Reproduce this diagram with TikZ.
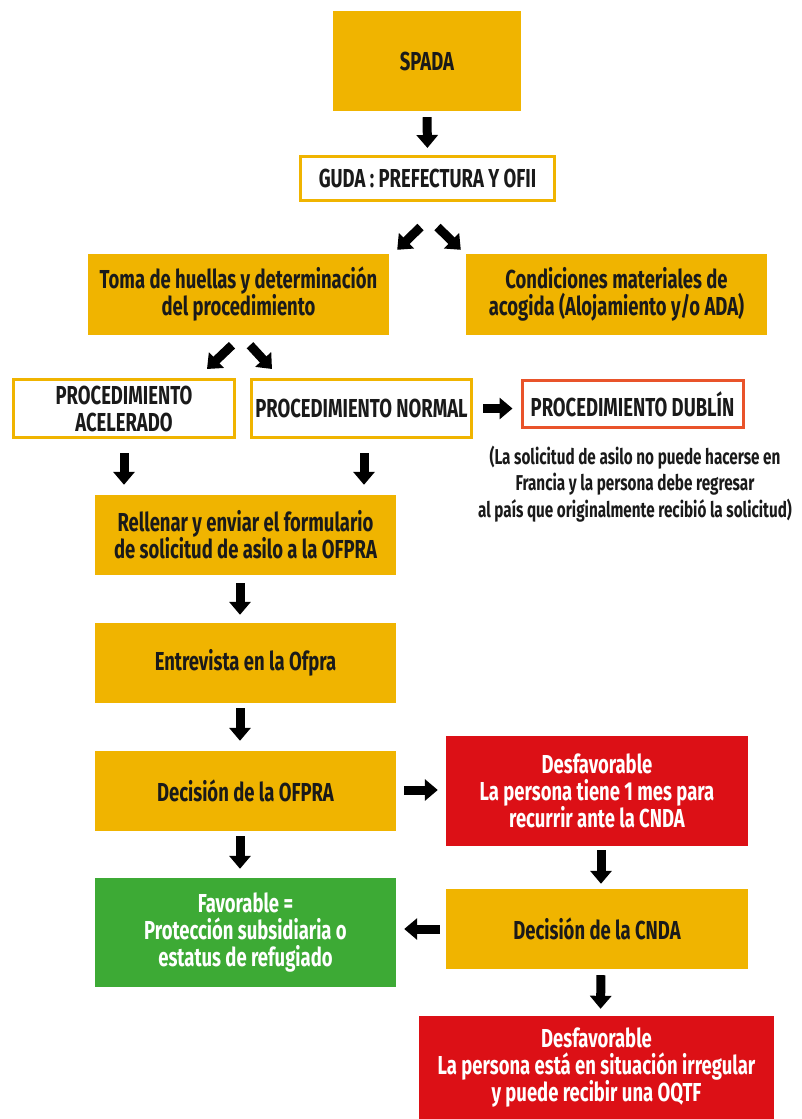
\documentclass[tikz,border=0pt]{standalone}
\usepackage{fontspec}
\setmainfont[FakeStretch=0.71]{Fira Sans}
\usetikzlibrary{arrows.meta}
\definecolor{orng}{RGB}{240,180,0}
\definecolor{dubl}{RGB}{233,83,42}
\definecolor{redb}{RGB}{220,16,22}
\definecolor{grnb}{RGB}{61,170,53}
\definecolor{txt}{RGB}{26,26,26}
\begin{document}
\begin{tikzpicture}[x=1pt,y=-1pt,
  box/.style={rectangle,inner sep=0pt,align=center,text=txt,font=\fontsize{26}{27}\selectfont\bfseries},
  fbox/.style={box,fill=orng},
  wbox/.style={box,draw=orng,line width=3pt,fill=white},
  blk/.style={line width=9pt,-{Triangle[width=21pt,length=13pt]}},
]
\path[use as bounding box] (0,0) rectangle (801,1119);
\node[fbox,minimum width=188pt,minimum height=100pt] (spada) at (427,61) {SPADA};
\node[wbox,minimum width=254pt,minimum height=44pt] (guda) at (427.5,178.5) {GUDA : PREFECTURA Y OFII};
\node[fbox,minimum width=301pt,minimum height=81pt] (toma) at (238.5,294.5) {Toma de huellas y determinación\\del procedimiento};
\node[fbox,minimum width=301pt,minimum height=81pt] (cond) at (616.5,294.5) {Condiciones materiales de\\acogida (Alojamiento y/o ADA)};
\node[wbox,minimum width=221pt,minimum height=58pt] (acel) at (124,408.5) {PROCEDIMIENTO\\ACELERADO};
\node[wbox,minimum width=220pt,minimum height=58pt] (norm) at (361.5,408.5) {PROCEDIMIENTO NORMAL};
\node[wbox,draw=dubl,minimum width=221pt,minimum height=47pt] (dub) at (632.5,404) {PROCEDIMIENTO DUBLÍN};
\node[box,font=\fontsize{21.5}{26.5}\selectfont\bfseries] (note) at (635,484) {(La solicitud de asilo no puede hacerse en\\Francia y la persona debe regresar\\al país que originalmente recibió la solicitud)};
\node[fbox,minimum width=301pt,minimum height=80pt] (rell) at (245.5,535) {Rellenar y enviar el formulario\\de solicitud de asilo a la OFPRA};
\node[fbox,minimum width=301pt,minimum height=80pt] (entr) at (245.5,663) {Entrevista en la Ofpra};
\node[fbox,minimum width=301pt,minimum height=80pt] (dofpra) at (245.5,791) {Decisión de la OFPRA};
\node[box,fill=redb,text=white,minimum width=302pt,minimum height=110pt] (desf1) at (597,791) {Desfavorable\\La persona tiene 1 mes para\\recurrir ante la CNDA};
\node[box,fill=grnb,text=white,minimum width=301pt,minimum height=109pt] (fav) at (245.5,932.5) {Favorable =\\Protección subsidiaria o\\estatus de refugiado};
\node[fbox,minimum width=302pt,minimum height=80pt] (dcnda) at (597,929) {Decisión de la CNDA};
\node[box,fill=redb,text=white,minimum width=355pt,minimum height=103pt] (desf2) at (596.5,1067.5) {Desfavorable\\La persona está en situación irregular\\y puede recibir una OQTF};

\draw[blk,shorten <=6pt,shorten >=7pt] (spada.south) -- (guda.north);
\draw[blk] ([shift={(-7,25)}]guda.south) -- ([shift={(8,-4)}]toma.north east);
\draw[blk] ([shift={(10,25)}]guda.south) -- ([shift={(-5,-4)}]cond.north west);
\draw[blk] ([shift={(-6.5,10)}]toma.south) -- ([shift={(-29,-9)}]acel.north east);
\draw[blk] ([shift={(11.5,10)}]toma.south) -- ([shift={(22,-9)}]norm.north west);
\draw[blk,shorten <=10pt,shorten >=8pt] (norm.east) -- (norm.east -| dub.west);
\draw[blk,shorten <=14pt,shorten >=10pt] (acel.south) -- (acel.south |- rell.north);
\draw[blk,shorten <=14pt,shorten >=10pt] ([xshift=2.5]norm.south) -- ([xshift=2.5]norm.south |- rell.north);
\draw[blk,shorten <=8pt,shorten >=8pt] ([xshift=-5.5]rell.south) -- ([xshift=-5.5]entr.north);
\draw[blk,shorten <=5pt,shorten >=10pt] ([xshift=-5.5]entr.south) -- ([xshift=-5.5]dofpra.north);
\draw[blk,shorten <=8pt,shorten >=8pt] ([yshift=1]dofpra.east) -- ([yshift=1]dofpra.east -| desf1.west);
\draw[blk,shorten <=5pt,shorten >=9pt] ([xshift=-5.5]dofpra.south) -- ([xshift=-5.5]fav.north);
\draw[blk,shorten <=4pt,shorten >=5pt] ([xshift=4]desf1.south) -- ([xshift=4]dcnda.north);
\draw[blk,shorten <=6pt,shorten >=8pt] (dcnda.west) -- (dcnda.west -| fav.east);
\draw[blk,shorten <=6pt,shorten >=7pt] ([xshift=4]dcnda.south) -- ([xshift=4]desf2.north);
\end{tikzpicture}
\end{document}
